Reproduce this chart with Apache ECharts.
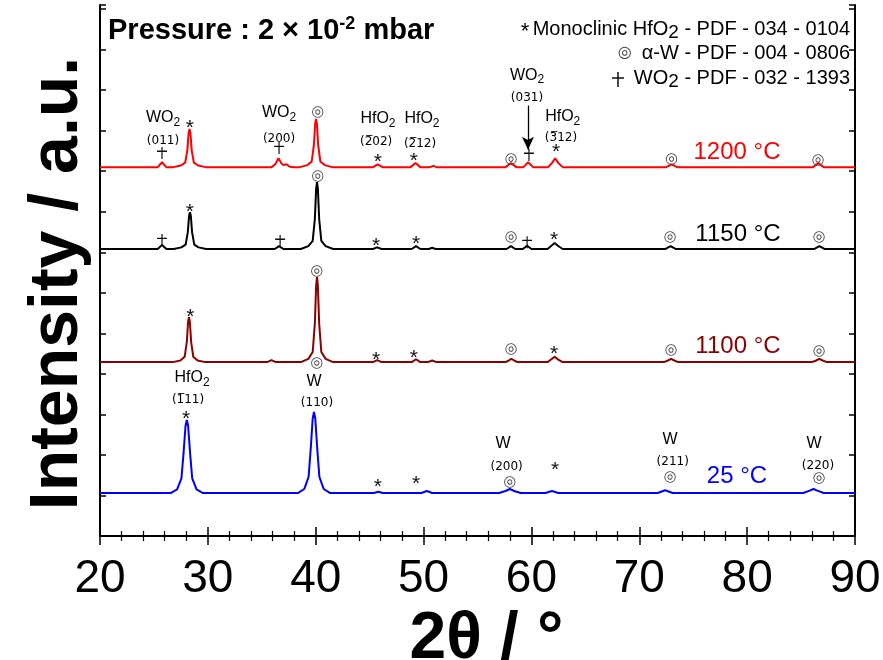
<!DOCTYPE html>
<html><head><meta charset="utf-8">
<script src="https://cdn.jsdelivr.net/npm/echarts@6/dist/echarts.min.js"></script>
<style>html,body{margin:0;padding:0;background:#fff}#c{width:883px;height:660px}</style>
</head><body><div id="c"></div>
<script>
// ---- axis ticks ----
const xTicks = [20, 30, 40, 50, 60, 70, 80, 90];
const yRange = [0, 1310];
const temps = ['1200 °C', '1150 °C', '1100 °C', '25 °C'];
const colors = ['#ff0000', '#000000', '#8b0000', '#0000ff'];

// ---- XRD patterns [2theta, intensity (offset, a.u.)] ----
const s1200 = [[20,910],[25.35,910],[25.75,922],[26.15,910],
 [26.8,910],[27.5,914],[27.9,921],[28.1,952],[28.22,995],[28.3,1004],[28.38,995],[28.5,952],[28.7,921],[29.1,914],[29.8,910],
 [35.9,910],[36.25,917],[36.55,932],[36.8,920],[37.0,915],[37.3,917],[37.6,911],[38.0,910],
 [38.53,910],[39.23,915],[39.63,924],[39.83,964],[39.95,1017],[40.03,1029],[40.11,1017],[40.23,964],[40.43,924],[40.83,915],[41.53,910],
 [45.3,910],[45.75,917],[46.2,910],[48.8,910],[49.25,920],[49.7,910],[50.6,910],[50.9,913],[51.2,910],
 [57.6,910],[58.1,920],[58.6,910],[59.25,910],[59.7,922],[60.15,910],
 [61.55,910],[61.9,920],[62.2,932],[62.5,920],[62.9,910],
 [72.5,910],[73.0,917],[73.5,910],[86.1,910],[86.6,920],[87.1,910],[90,910]];

const s1150 = [[20,708],[25.35,708],[25.75,718],[26.15,708],
 [26.84,708],[27.54,712],[27.94,719],[28.14,749],[28.26,790],[28.34,799],[28.42,790],[28.54,749],[28.74,719],[29.14,712],[29.84,708],
 [36.2,708],[36.6,715],[37.0,708],
 [38.62,708],[39.32,715],[39.72,728],[39.92,782],[40.04,857],[40.12,873],[40.2,857],[40.32,782],[40.52,728],[40.92,715],[41.62,708],
 [45.3,708],[45.7,712],[46.1,708],[48.9,708],[49.3,715],[49.7,708],[50.5,708],[50.8,711],[51.1,708],
 [57.7,708],[58.1,715],[58.5,708],[59.2,708],[59.6,716],[60.0,708],
 [61.5,708],[61.85,716],[62.15,723],[62.45,716],[62.9,708],
 [72.4,708],[72.9,715],[73.4,708],[86.2,708],[86.7,715],[87.2,708],[90,708]];

const s1100 = [[20,429],[26.75,429],[27.45,433],[27.85,442],[28.05,479],[28.17,529],[28.25,540],[28.33,529],[28.45,479],[28.65,442],[29.05,433],[29.75,429],
 [35.5,429],[35.9,434],[36.3,429],
 [38.62,429],[39.32,437],[39.72,454],[39.92,524],[40.04,618],[40.12,639],[40.2,618],[40.32,524],[40.52,454],[40.92,437],[41.62,429],
 [45.3,429],[45.7,434],[46.1,429],[48.9,429],[49.3,436],[49.7,429],[50.4,429],[50.8,433],[51.2,429],
 [57.6,429],[57.9,433],[58.15,437],[58.4,433],[58.7,429],
 [61.5,429],[61.85,436],[62.15,442],[62.45,436],[62.9,429],
 [72.3,429],[72.65,433],[72.95,437],[73.25,433],[73.6,429],
 [86.0,429],[86.4,433],[86.7,437],[87.0,433],[87.4,429],[90,429]];

const s25 = [[20,106],[26.55,106],[27.15,115],[27.55,142],[27.75,205],[27.93,272],[28.05,286],[28.17,272],[28.35,205],[28.55,142],[28.95,115],[29.55,106],
 [38.34,106],[38.94,116],[39.34,146],[39.54,216],[39.72,290],[39.84,306],[39.96,290],[40.14,216],[40.34,146],[40.74,116],[41.34,106],
 [45.4,106],[45.8,109],[46.2,106],[49.8,106],[50.3,111],[50.8,106],
 [57.0,106],[57.6,111],[58.0,116],[58.4,111],[59.0,106],
 [61.3,106],[61.9,111],[62.5,106],[71.7,106],[72.4,113],[73.1,106],
 [85.2,106],[85.8,112],[86.15,116],[86.5,112],[87.1,106],[90,106]];

// ---- phase markers [2theta, intensity] ----
const hfo2Marks = [[28.34,1016],[45.77,933],[49.1,935],[62.28,957],
 [28.34,809],[45.6,725],[49.3,730],[62.1,740],
 [28.38,550],[45.6,444],[49.1,449],[62.1,459],
 [27.97,298],[45.77,131],[49.3,138],[62.2,173]];
const wMarks = [[40.2,1046],[58.1,930],[73.0,930],[86.57,928],
 [40.2,888],[58.1,738],[72.85,738],[86.66,738],
 [40.1,654],[58.1,461],[72.95,459],[86.66,456],
 [40.1,427],[58.0,133],[72.85,146],[86.66,143]];
const wo2Marks = [[25.75,945],[36.6,957],[59.77,940],
 [25.75,730],[36.7,728],[59.6,725]];

// ---- peak labels [2theta, intensity, text] ----
const phaseLabels = [[25.84,1031,'WO2'],[36.6,1044,'WO2'],[45.77,1029,'HfO2'],[49.85,1029,'HfO2'],
 [59.59,1137,'WO2'],[62.9,1034,'HfO2'],[28.53,390,'HfO2'],[39.84,380,'W'],[57.37,229,'W'],[72.85,237,'W'],[86.2,229,'W']];
const millerLabels = [[25.84,975,'(011)'],[36.6,980,'(200)'],[45.6,972,'(2\u030502)'],[49.67,967,'(2\u030512)'],
 [59.59,1081,'(031)'],[62.74,982,'(3\u030512)'],[28.16,335,'(1\u030511)'],[40.12,328,'(110)'],
 [57.7,170,'(200)'],[73.1,183,'(211)'],[86.57,173,'(220)']];
const tempLabelPos = [[79.06,947],[79.15,743],[79.15,469],[79.06,148]];
const arrow031 = [[59.68,1062],[59.68,953]];

const FF = '"Liberation Sans", Arial, Helvetica, sans-serif';
const HIDDEN = {color: 'rgba(0,0,0,0)', opacity: 1};
const CROSS = 'path://M0,5L12,5M6,0L6,14';

function markerSeries(data, text, size, color, offY, font) {
  return {
    type: 'scatter', data: data, symbolSize: 1, itemStyle: HIDDEN,
    silent: true, z: 5,
    label: {show: true, position: 'inside', formatter: text, fontFamily: font || FF,
      fontSize: size, color: color, offset: [0, offY]}
  };
}

const chart = echarts.init(document.getElementById('c'), null, {renderer: 'canvas'});
const patterns = [s1200, s1150, s1100, s25];

const series = patterns.map((d, i) => ({
  type: 'line', data: d, showSymbol: false, symbol: 'none', silent: true,
  lineStyle: {color: colors[i], width: 2}, z: 3
}));

series.push(markerSeries(hfo2Marks, '*', 21, '#111', 4));
series.push(markerSeries(wMarks, '\u25CE', 15, '#444', 0, '"DejaVu Sans", sans-serif'));
series.push({
  type: 'scatter', data: wo2Marks, symbol: CROSS, symbolSize: [10, 12], silent: true, z: 5,
  itemStyle: {color: 'rgba(0,0,0,0)', borderColor: '#111', borderWidth: 1.3, opacity: 1}
});

series.push({
  type: 'scatter', symbolSize: 1, itemStyle: HIDDEN, silent: true, z: 5,
  data: phaseLabels.map(p => ({value: [p[0], p[1]], name: p[2]})),
  label: {show: true, position: 'inside', color: '#000',
    formatter: p => p.name.endsWith('2') ? '{m|' + p.name.slice(0, -1) + '}{s|2}' : '{m|' + p.name + '}',
    rich: {m: {fontFamily: FF, fontSize: 16, lineHeight: 22, color: '#000'},
           s: {fontFamily: FF, fontSize: 12, lineHeight: 12, verticalAlign: 'bottom', color: '#000'}}}
});
series.push({
  type: 'scatter', symbolSize: 1, itemStyle: HIDDEN, silent: true, z: 5,
  data: millerLabels.map(p => ({value: [p[0], p[1]], name: p[2]})),
  label: {show: true, position: 'inside', color: '#000', fontFamily: '"DejaVu Sans", sans-serif', fontSize: 12, formatter: p => p.name}
});
series.push({
  type: 'scatter', symbolSize: 1, itemStyle: HIDDEN, silent: true, z: 5,
  data: tempLabelPos.map((p, i) => ({value: p, name: temps[i], label: {color: colors[i]}})),
  label: {show: true, position: 'inside', fontFamily: FF, fontSize: 24, formatter: p => p.name}
});
series.push({
  type: 'line', data: [], silent: true,
  markLine: {silent: true, symbol: ['none', 'arrow'], symbolSize: [9, 13], label: {show: false},
    lineStyle: {color: '#000', width: 1.3, type: 'solid'},
    data: [[{coord: arrow031[0]}, {coord: arrow031[1]}]]}
});

const axisCommon = {
  type: 'value', min: xTicks[0], max: xTicks[xTicks.length - 1], interval: xTicks[1] - xTicks[0],
  axisLine: {show: true, lineStyle: {color: '#000', width: 2}},
  axisTick: {show: true, inside: true, length: 9, lineStyle: {color: '#000', width: 1.5}},
  minorTick: {show: true, splitNumber: 5, length: 5, lineStyle: {color: '#000', width: 1.2}},
  splitLine: {show: false}
};
const yCommon = {
  type: 'value', min: yRange[0], max: yRange[1], interval: 100,
  axisLine: {show: true, lineStyle: {color: '#000', width: 2}},
  axisTick: {show: true, inside: true, length: 6, lineStyle: {color: '#000', width: 1.5}},
  axisLabel: {show: false}, splitLine: {show: false}
};

chart.setOption({
  animation: false,
  backgroundColor: '#fff',
  grid: {left: 100, right: 28, top: 5, bottom: 124, outerBoundsMode: 'none', containLabel: false},
  xAxis: [
    Object.assign({}, axisCommon, {position: 'bottom',
      name: '2\u03B8 / \u00B0', nameLocation: 'middle', nameGap: 62,
      nameTextStyle: {fontFamily: FF, fontWeight: 'bold', fontSize: 66, color: '#000', padding: [0, 0, 0, 18]},
      axisLabel: {show: true, margin: 20, fontFamily: FF, fontSize: 46, color: '#000',
        formatter: v => xTicks.indexOf(v) >= 0 ? String(v) : ''}}),
    Object.assign({}, axisCommon, {position: 'top', axisLabel: {show: false}})
  ],
  yAxis: [
    Object.assign({}, yCommon, {position: 'left', name: 'Intensity / a.u.', nameLocation: 'middle', nameGap: 8,
      nameTextStyle: {fontFamily: FF, fontWeight: 'bold', fontSize: 68, color: '#000', padding: [0, 26, 0, 0]}}),
    Object.assign({}, yCommon, {position: 'right'})
  ],
  series: series,
  graphic: [
    {type: 'text', left: 108, top: 15, z: 10, style: {
      text: '{a|Pressure : 2 \u00D7 10}{b|-2}{a| mbar}', fill: '#000',
      rich: {a: {fontFamily: FF, fontWeight: 'bold', fontSize: 29, lineHeight: 32, fill: '#000'},
             b: {fontFamily: FF, fontWeight: 'bold', fontSize: 18, lineHeight: 18, verticalAlign: 'top', fill: '#000'}}}},
    {type: 'text', right: 33, top: 15, z: 10, style: {
      text: '{k|*} {a|Monoclinic HfO}{s|2}{a| - PDF - 034 - 0104}', align: 'right',
      rich: {k: {fontFamily: FF, fontSize: 22, lineHeight: 26, padding: [6, 0, 0, 0], fill: '#000'},
             a: {fontFamily: FF, fontSize: 20, lineHeight: 26, fill: '#000'},
             s: {fontFamily: FF, fontSize: 19, lineHeight: 19, verticalAlign: 'bottom', fill: '#000'}}}},
    {type: 'text', right: 33, top: 43, z: 10, style: {
      text: '{k|\u25CE}   {a|\u03B1-W - PDF - 004 - 0806}', align: 'right',
      rich: {k: {fontFamily: '"DejaVu Sans", sans-serif', fontSize: 16, lineHeight: 26, fill: '#444'},
             a: {fontFamily: FF, fontSize: 20, lineHeight: 26, fill: '#000'}}}},
    {type: 'line', z: 10, shape: {x1: 612, y1: 78, x2: 624, y2: 78}, style: {stroke: '#111', lineWidth: 1.5}},
    {type: 'line', z: 10, shape: {x1: 618, y1: 72, x2: 618, y2: 87}, style: {stroke: '#111', lineWidth: 1.5}},
    {type: 'text', right: 33, top: 68, z: 10, style: {
      text: '{a|WO}{s|2}{a| - PDF - 032 - 1393}', align: 'right',
      rich: {a: {fontFamily: FF, fontSize: 20, lineHeight: 26, fill: '#000'},
             s: {fontFamily: FF, fontSize: 19, lineHeight: 19, verticalAlign: 'bottom', fill: '#000'}}}}
  ]
});
</script></body></html>
